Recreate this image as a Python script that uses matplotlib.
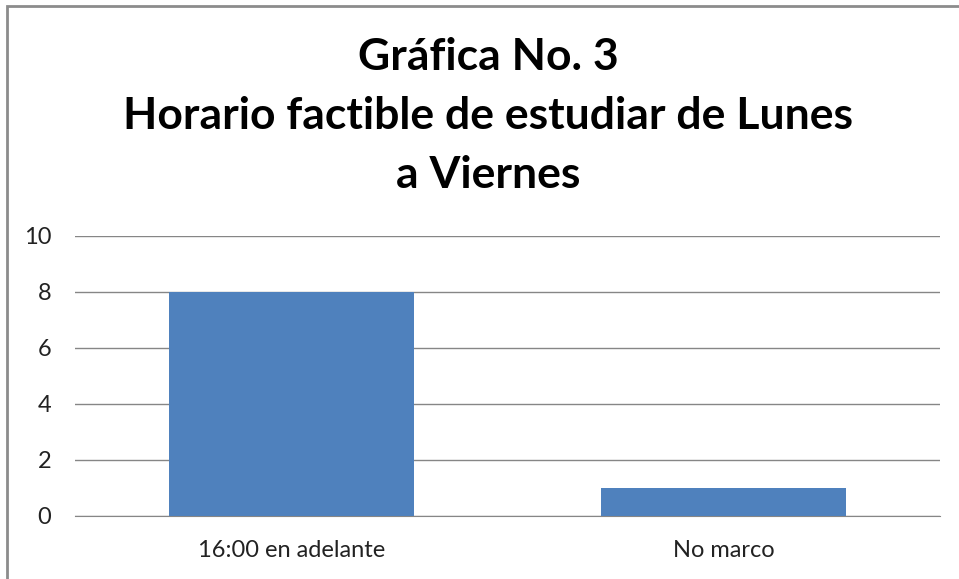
import matplotlib.pyplot as plt
from matplotlib.patches import Rectangle

categories = ["16:00 en adelante", "No marco"]
values = [8, 1]
y_ticks = [0, 2, 4, 6, 8, 10]
title = "Gráfica No. 3\nHorario factible de estudiar de Lunes\na Viernes"

plt.rcParams["font.family"] = ["Lato", "DejaVu Sans"]

fig = plt.figure(figsize=(9.59, 5.79), dpi=100)

# outer chart border (runs off the right and bottom edges)
fig.patches.append(
    Rectangle((7 / 959, -0.05), 1.1, 1 - 6 / 579 + 0.05,
              transform=fig.transFigure, fill=False,
              edgecolor="#8c8c8c", linewidth=2)
)

ax = fig.add_axes([75 / 959, 63 / 579, 865 / 959, 280 / 579])

x = list(range(len(categories)))
ax.bar(x, values, width=0.566, color="#4F81BD", zorder=3)

ax.set_xlim(-0.5, len(categories) - 0.5)
ax.set_ylim(0, 10)
ax.set_yticks(y_ticks)
ax.set_xticks(x)
ax.set_xticklabels(categories)

ax.grid(axis="y", color="#868686", linewidth=1, zorder=0)
for side in ["top", "right", "left"]:
    ax.spines[side].set_visible(False)
ax.spines["bottom"].set_color("#868686")
ax.tick_params(axis="both", length=0, labelsize=17, colors="#222222")
ax.tick_params(axis="y", pad=17)
ax.tick_params(axis="x", pad=17)

fig.text(
    488 / 959, 1 - 116 / 579, title,
    ha="center", va="center",
    fontsize=32, fontweight="bold",
    linespacing=1.58
)

plt.savefig("out.png", dpi=100)
